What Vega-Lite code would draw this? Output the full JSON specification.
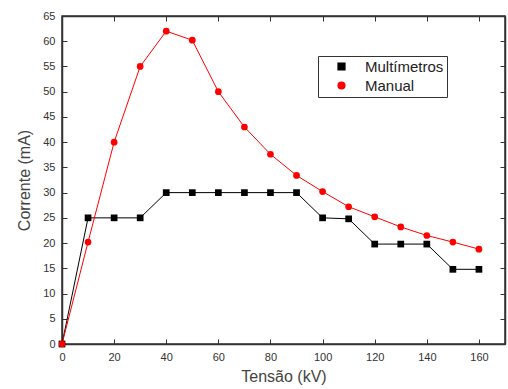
{
  "$schema": "https://vega.github.io/schema/vega-lite/v6.json",
  "width": 443,
  "height": 328,
  "autosize": "none",
  "padding": {"left": 62, "top": 16, "right": 3, "bottom": 45},
  "background": "white",
  "config": {
    "view": {"stroke": "#333", "strokeWidth": 1.5},
    "axis": {
      "labelFont": "Liberation Sans",
      "labelFontSize": 11,
      "labelColor": "#333",
      "labelOverlap": false,
      "labelFlush": false,
      "titleFont": "Liberation Sans",
      "titleFontSize": 16,
      "titleFontWeight": "normal",
      "titleColor": "#444",
      "domainColor": "#333",
      "domainWidth": 1.5,
      "tickColor": "#333",
      "tickWidth": 1,
      "grid": false
    },
    "legend": {
      "orient": "none",
      "legendX": 256,
      "legendY": 40,
      "strokeColor": "#333",
      "fillColor": "white",
      "padding": 3,
      "labelFont": "Liberation Sans",
      "labelFontSize": 15,
      "labelColor": "#222",
      "symbolSize": 45,
      "symbolOffset": 13,
      "labelOffset": 16,
      "rowPadding": 3
    }
  },
  "data": {
    "values": [
      {"kV": 0, "mA": 0, "serie": "Multímetros"},
      {"kV": 10, "mA": 25, "serie": "Multímetros"},
      {"kV": 20, "mA": 25, "serie": "Multímetros"},
      {"kV": 30, "mA": 25, "serie": "Multímetros"},
      {"kV": 40, "mA": 30, "serie": "Multímetros"},
      {"kV": 50, "mA": 30, "serie": "Multímetros"},
      {"kV": 60, "mA": 30, "serie": "Multímetros"},
      {"kV": 70, "mA": 30, "serie": "Multímetros"},
      {"kV": 80, "mA": 30, "serie": "Multímetros"},
      {"kV": 90, "mA": 30, "serie": "Multímetros"},
      {"kV": 100, "mA": 25, "serie": "Multímetros"},
      {"kV": 110, "mA": 24.8, "serie": "Multímetros"},
      {"kV": 120, "mA": 19.8, "serie": "Multímetros"},
      {"kV": 130, "mA": 19.8, "serie": "Multímetros"},
      {"kV": 140, "mA": 19.8, "serie": "Multímetros"},
      {"kV": 150, "mA": 14.8, "serie": "Multímetros"},
      {"kV": 160, "mA": 14.8, "serie": "Multímetros"},
      {"kV": 0, "mA": 0, "serie": "Manual"},
      {"kV": 10, "mA": 20.2, "serie": "Manual"},
      {"kV": 20, "mA": 40, "serie": "Manual"},
      {"kV": 30, "mA": 55, "serie": "Manual"},
      {"kV": 40, "mA": 62, "serie": "Manual"},
      {"kV": 50, "mA": 60.2, "serie": "Manual"},
      {"kV": 60, "mA": 50, "serie": "Manual"},
      {"kV": 70, "mA": 43, "serie": "Manual"},
      {"kV": 80, "mA": 37.6, "serie": "Manual"},
      {"kV": 90, "mA": 33.4, "serie": "Manual"},
      {"kV": 100, "mA": 30.2, "serie": "Manual"},
      {"kV": 110, "mA": 27.2, "serie": "Manual"},
      {"kV": 120, "mA": 25.2, "serie": "Manual"},
      {"kV": 130, "mA": 23.2, "serie": "Manual"},
      {"kV": 140, "mA": 21.5, "serie": "Manual"},
      {"kV": 150, "mA": 20.2, "serie": "Manual"},
      {"kV": 160, "mA": 18.8, "serie": "Manual"}
    ]
  },
  "layer": [
    {
      "mark": {"type": "line", "strokeWidth": 1},
      "encoding": {
        "x": {
          "field": "kV", "type": "quantitative",
          "scale": {"domain": [0, 170], "nice": false},
          "axis": {"orient": "bottom", "title": "Tensão (kV)", "values": [0, 20, 40, 60, 80, 100, 120, 140, 160], "tickSize": -5, "labelPadding": 12, "titlePadding": 6}
        },
        "y": {
          "field": "mA", "type": "quantitative",
          "scale": {"domain": [0, 65], "nice": false},
          "axis": {"orient": "left", "title": "Corrente (mA)", "values": [0,5,10,15,20,25,30,35,40,45,50,55,60,65], "tickSize": -5, "labelPadding": 12, "titlePadding": 10}
        },
        "color": {
          "field": "serie", "type": "nominal",
          "scale": {"domain": ["Multímetros", "Manual"], "range": ["#000000", "#ff0000"]}
        }
      }
    },
    {
      "mark": {"type": "point", "filled": true, "size": 45, "opacity": 1},
      "encoding": {
        "x": {
          "field": "kV", "type": "quantitative",
          "axis": {"orient": "top", "title": null, "labels": false, "values": [0, 20, 40, 60, 80, 100, 120, 140, 160], "tickSize": -5}
        },
        "y": {
          "field": "mA", "type": "quantitative",
          "axis": {"orient": "right", "title": null, "labels": false, "values": [0,5,10,15,20,25,30,35,40,45,50,55,60,65], "tickSize": -5}
        },
        "shape": {
          "field": "serie", "type": "nominal",
          "scale": {"domain": ["Multímetros", "Manual"], "range": ["square", "circle"]}
        },
        "color": {
          "field": "serie", "type": "nominal",
          "legend": {"title": null}
        }
      }
    }
  ]
}
